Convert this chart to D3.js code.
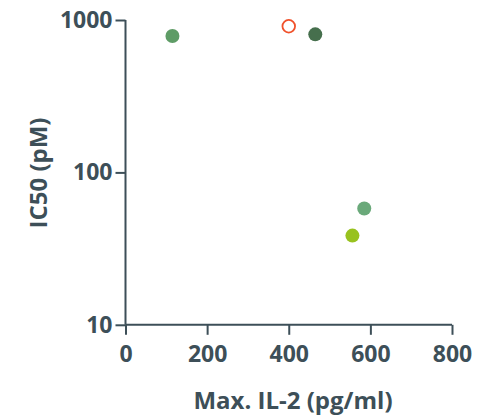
<!DOCTYPE html>
<html><head><meta charset="utf-8">
<script src="https://cdn.jsdelivr.net/npm/d3@7"></script>
<style>body{margin:0;background:#fff}</style>
</head><body>
<svg id="c" width="492" height="416"></svg>
<script>
const xValues = [115, 400, 465, 585, 556];
const yValues = [785, 910, 805, 58, 38.5];
const colors = ["#5e9c66", "#f0512b", "#466f4d", "#6aa97a", "#98c21f"];
const filled = [true, false, true, true, true];
const xTicks = [0, 200, 400, 600, 800];
const yTicks = [10, 100, 1000];
const xTitle = "Max. IL-2 (pg/ml)";
const yTitle = "IC50 (pM)";

const ink = "#3d4f58";
const font = "'Open Sans', sans-serif";
const svg = d3.select("#c");
const x = d3.scaleLinear().domain([0, 800]).range([125.5, 452]);
const y = d3.scaleLog().domain([10, 1000]).range([324.8, 20]);

const gx = svg.append("g").attr("transform", "translate(0,324.8)")
  .call(d3.axisBottom(x).tickValues(xTicks).tickSize(10).tickPadding(11).tickFormat(d3.format("d")));
const gy = svg.append("g").attr("transform", "translate(125.5,0)")
  .call(d3.axisLeft(y).tickValues(yTicks).tickSize(10).tickPadding(3).tickFormat(d3.format("d")));
[gx, gy].forEach(g => {
  g.selectAll("path,line").attr("stroke", ink).attr("stroke-width", 2);
  g.select(".domain").attr("d", g === gx ? "M125.5,0H452" : "M0,324.8V20");
  g.selectAll("text").attr("fill", ink).style("font-family", font)
    .style("font-weight", 700).style("font-size", "23px");
});
svg.append("text").attr("x", 293).attr("y", 409).attr("text-anchor", "middle")
  .attr("fill", ink).style("font-family", font).style("font-weight", 700).style("font-size", "24px")
  .text(xTitle);
svg.append("text").attr("transform", "translate(47,173) rotate(-90)").attr("text-anchor", "middle")
  .attr("fill", ink).style("font-family", font).style("font-weight", 700).style("font-size", "24px")
  .text(yTitle);

svg.append("g").selectAll("circle").data(xValues).join("circle")
  .attr("cx", (d, i) => x(d)).attr("cy", (d, i) => y(yValues[i]))
  .attr("r", (d, i) => filled[i] ? 7 : 6.3)
  .attr("fill", (d, i) => filled[i] ? colors[i] : "none")
  .attr("stroke", (d, i) => filled[i] ? "none" : colors[i])
  .attr("stroke-width", 1.8);
</script>
</body></html>
